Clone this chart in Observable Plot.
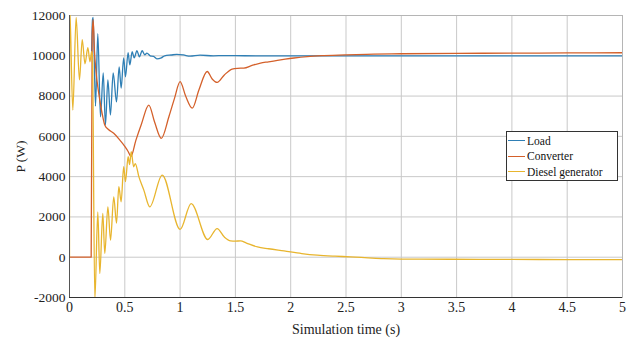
<!DOCTYPE html>
<html>
<head>
<meta charset="utf-8">
<script src="https://cdn.jsdelivr.net/npm/d3@7"></script>
<script src="https://cdn.jsdelivr.net/npm/@observablehq/plot@0.6"></script>
<style>
  html, body { margin: 0; padding: 0; background: #fff; }
  #wrap { position: relative; width: 627px; height: 340px; font-family: 'Liberation Serif', 'DejaVu Serif', serif; }
  #chart svg, #chart svg text { font-family: 'Liberation Serif', 'DejaVu Serif', serif !important; }
  #legend { position: absolute; left: 506px; top: 131px; width: 112px; height: 50px; border: 1px solid #333; background: #fff; box-sizing: border-box; padding-top: 1px; }
  .item { display: flex; align-items: center; height: 15.5px; font-size: 11.5px; color: #111; white-space: nowrap; }
  .swatch { width: 17px; height: 0; border-top: 1.3px solid; margin: 0 2px 0 1px; }
</style>
</head>
<body>
<div id="wrap"><div id="chart"></div><div id="legend"></div></div>
<script>
const seriesNames = ["Load", "Converter", "Diesel generator"];
const seriesColors = ["#2f7fb5", "#d4602a", "#e8b52e"];
const xTicks = [0, 0.5, 1, 1.5, 2, 2.5, 3, 3.5, 4, 4.5, 5];
const yTicks = [-2000, 0, 2000, 4000, 6000, 8000, 10000, 12000];

const loadT = [0.2, 0.208, 0.214, 0.235, 0.256, 0.28, 0.305, 0.325, 0.347, 0.37, 0.395, 0.425, 0.449, 0.467, 0.49, 0.506, 0.53, 0.545, 0.567, 0.585, 0.61, 0.632, 0.657, 0.68, 0.70, 0.73, 0.76, 0.79, 0.83, 0.86, 0.92, 0.97, 1.03, 1.09, 1.18, 1.3, 1.4, 1.5, 1.7, 2.0, 2.5, 3.0, 3.5, 4.0, 4.5, 5.0];
const loadP = [10200, 11800, 11900, 7500, 11100, 6970, 9150, 6570, 8800, 7060, 9150, 7710, 9450, 8400, 9900, 8960, 10150, 9550, 10200, 9900, 10250, 9950, 10250, 10050, 10130, 10000, 9970, 9850, 9900, 10000, 10040, 10070, 10040, 9980, 10030, 10000, 10010, 10005, 10000, 10000, 10000, 10000, 10000, 10000, 10000, 10000];

const convT = [0, 0.196, 0.205, 0.214, 0.225, 0.24, 0.26, 0.28, 0.30, 0.32, 0.35, 0.40, 0.45, 0.50, 0.53, 0.555, 0.6, 0.65, 0.717, 0.77, 0.83, 0.9, 0.95, 1.0, 1.05, 1.11, 1.17, 1.245, 1.29, 1.335, 1.4, 1.47, 1.52, 1.576, 1.65, 1.727, 1.8, 1.88, 1.95, 2.03, 2.15, 2.3, 2.5, 2.75, 3.0, 3.5, 4.0, 4.5, 5.0];
const convP = [0, 0, 11000, 11800, 10300, 9200, 8300, 7600, 7000, 6550, 6350, 6150, 5850, 5500, 5250, 5000, 5800, 6600, 7550, 6700, 5900, 7000, 7900, 8720, 8000, 7400, 8300, 9220, 8850, 8680, 9050, 9340, 9380, 9390, 9520, 9640, 9700, 9770, 9830, 9890, 9960, 10010, 10050, 10080, 10100, 10120, 10130, 10140, 10150];

const dieselT = [0, 0.001, 0.03, 0.06, 0.09, 0.115, 0.14, 0.166, 0.185, 0.2, 0.207, 0.229, 0.256, 0.274, 0.301, 0.319, 0.347, 0.371, 0.40, 0.425, 0.446, 0.467, 0.49, 0.506, 0.53, 0.543, 0.558, 0.58, 0.595, 0.627, 0.672, 0.726, 0.838, 1.0, 1.10, 1.25, 1.335, 1.40, 1.456, 1.5, 1.546, 1.6, 1.70, 1.8, 1.94, 2.1, 2.24, 2.4, 2.54, 2.7, 2.84, 3.0, 3.44, 4.0, 4.5, 5.0];
const dieselP = [0, 12500, 7300, 11900, 8800, 10800, 9600, 10400, 9700, 10200, 10000, -2100, 2250, -810, 2170, 190, 2500, 850, 3000, 1690, 3500, 2750, 4490, 3750, 4990, 4600, 5240, 4490, 4650, 4000, 3330, 2500, 4080, 1380, 2660, 880, 1420, 1000, 810, 800, 810, 700, 510, 420, 310, 180, 100, 50, 20, -30, -70, -90, -100, -110, -115, -120];

const toRows = (T, P, s) => T.map((t, i) => ({t, p: P[i], s}));
const data = [
  ...toRows(loadT, loadP, seriesNames[0]),
  ...toRows(convT, convP, seriesNames[1]),
  ...toRows(dieselT, dieselP, seriesNames[2])
];

const fmt = d => String(d);
const chart = Plot.plot({
  width: 627,
  height: 340,
  marginLeft: 69,
  marginRight: 5,
  marginTop: 15,
  marginBottom: 43,
  style: { background: "#fff", color: "#222" },
  x: { domain: [0, 5] },
  y: { domain: [-2000, 12000] },
  color: { domain: seriesNames, range: seriesColors },
  marks: [
    Plot.gridX(xTicks, { stroke: "#c9c9c9", strokeOpacity: 1 }),
    Plot.gridY(yTicks, { stroke: "#c9c9c9", strokeOpacity: 1 }),
    Plot.frame({ stroke: "#b5b5b5" }),
    Plot.line(data, { x: "t", y: "p", z: "s", stroke: "s", strokeWidth: 1.3, curve: "monotone-x", clip: true }),
    Plot.ruleY([-2000], { stroke: "#333" }),
    Plot.ruleX([0], { stroke: "#555" }),
    Plot.axisX(xTicks, { tickSize: 0, tickPadding: 5, tickFormat: fmt, fontSize: 14, label: "Simulation time (s)", labelAnchor: "center", labelArrow: "none", labelOffset: 36 }),
    Plot.axisY(yTicks, { tickSize: 0, tickPadding: 4, tickFormat: fmt, fontSize: 13.5, label: "P (W)", labelAnchor: "center", labelArrow: "none", labelOffset: 54 })
  ]
});
document.getElementById("chart").appendChild(chart);

const legend = document.getElementById("legend");
seriesNames.forEach((n, i) => {
  const row = document.createElement("div");
  row.className = "item";
  const sw = document.createElement("span");
  sw.className = "swatch";
  sw.style.borderColor = seriesColors[i];
  const tx = document.createElement("span");
  tx.textContent = n;
  row.appendChild(sw);
  row.appendChild(tx);
  legend.appendChild(row);
});
</script>
</body>
</html>
